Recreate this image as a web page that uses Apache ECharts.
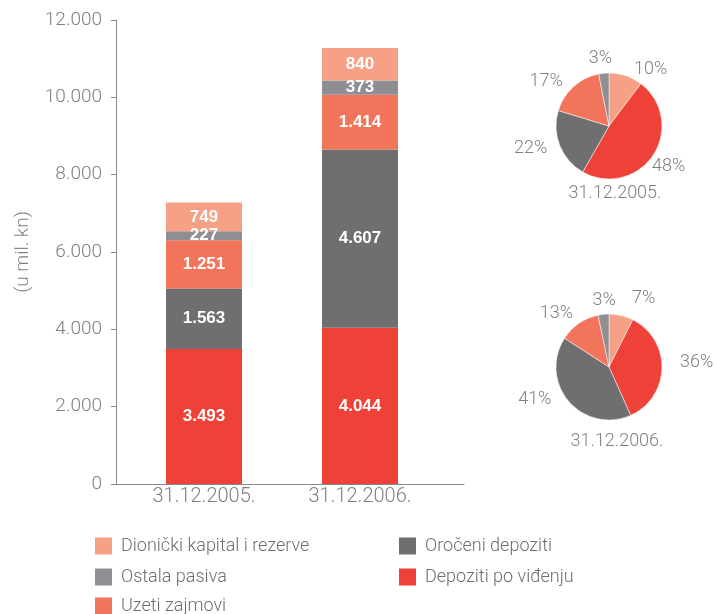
<!DOCTYPE html>
<html><head><meta charset="utf-8">
<script src="https://cdn.jsdelivr.net/npm/echarts@6/dist/echarts.min.js"></script>
<style>html,body{margin:0;padding:0;background:#fff}#c{width:719px;height:614px}</style>
</head><body><div id="c"></div>
<script>
const categories = ['31.12.2005.', '31.12.2006.'];
const seriesNames = ['Depoziti po viđenju', 'Oročeni depoziti', 'Uzeti zajmovi', 'Ostala pasiva', 'Dionički kapital i rezerve'];
const depozitiPoVidenju = [3493, 4044];
const oroceniDepoziti = [1563, 4607];
const uzetiZajmovi = [1251, 1414];
const ostalaPasiva = [227, 373];
const dionickiKapital = [749, 840];
const yTicks = [0, 2000, 4000, 6000, 8000, 10000, 12000];

const colors = {
  'Depoziti po viđenju': '#EE4137',
  'Oročeni depoziti': '#6F6E71',
  'Uzeti zajmovi': '#F2745B',
  'Ostala pasiva': '#8F8E93',
  'Dionički kapital i rezerve': '#F6A085'
};
const values = [depozitiPoVidenju, oroceniDepoziti, uzetiZajmovi, ostalaPasiva, dionickiKapital];
const fmt = v => { const s = String(Math.round(v)); return s.length > 3 ? s.slice(0, -3) + '.' + s.slice(-3) : s; };
const FONT = 'Roboto';
const GRAY = '#808083';

const bars = seriesNames.map((n, i) => ({
  name: n, type: 'bar', stack: 'a', xAxisIndex: 1, yAxisIndex: 1,
  barWidth: 76, data: values[i],
  itemStyle: { color: colors[n] },
  label: { show: true, position: 'inside', color: '#fff', fontWeight: 'bold', fontFamily: 'Liberation Sans', fontSize: 17,
    formatter: p => fmt(p.value) }
}));

// pie order clockwise from top
const pieOrder = ['Dionički kapital i rezerve', 'Depoziti po viđenju', 'Oročeni depoziti', 'Uzeti zajmovi', 'Ostala pasiva'];
// label nudges (style only)
const pieLabelOffsets = [
  { 'Ostala pasiva': [15, -8], 'Depoziti po viđenju': [-13, 8] },
  { 'Ostala pasiva': [19, -7], 'Dionički kapital i rezerve': [3, -10], 'Uzeti zajmovi': [4, -4], 'Depoziti po viđenju': [5, -6], 'Oročeni depoziti': [-6, -7] }
];
const pie = (idx, cy) => ({
  type: 'pie', radius: 53, center: [609, cy], startAngle: 90, clockwise: true,
  percentPrecision: 0, silent: true, avoidLabelOverlap: false,
  data: pieOrder.map(n => ({ name: n, value: values[seriesNames.indexOf(n)][idx],
    itemStyle: { color: colors[n] },
    label: { offset: pieLabelOffsets[idx][n] || [0, 0] } })),
  label: { show: true, position: 'outside', formatter: '{d}%', color: GRAY, fontSize: 18, fontFamily: FONT, fontWeight: 300 },
  labelLine: { show: false, length: 7, length2: 1 },
  itemStyle: { borderColor: '#fff', borderWidth: 0.5 }
});

const legendText = { color: '#6d6e71', fontSize: 18, fontFamily: FONT, fontWeight: 300, padding: [0, 0, 0, 4] };
const legendBase = { orient: 'vertical', itemWidth: 17, itemHeight: 17, itemGap: 13, padding: 0, icon: 'rect',
  textStyle: legendText, selectedMode: false };

const chart = echarts.init(document.getElementById('c'));
chart.setOption({
  animation: false,
  textStyle: { fontFamily: FONT },
  grid: [
    { left: 116, right: 255, top: 20, bottom: 130 },
    { left: 126, right: 281, top: 20, bottom: 130 }
  ],
  xAxis: [
    { type: 'value', gridIndex: 0, min: 0, max: 1, axisLabel: { show: false }, axisTick: { show: false }, splitLine: { show: false },
      axisLine: { lineStyle: { color: '#8a8a8d', width: 1 } } },
    { type: 'category', gridIndex: 1, data: categories, axisLine: { show: false }, axisTick: { show: false },
      axisLabel: { color: GRAY, fontSize: 20, fontFamily: FONT, fontWeight: 300, margin: 3 } }
  ],
  yAxis: [
    { type: 'value', gridIndex: 0, min: 0, max: 12000, interval: 2000,
      axisLine: { show: true, lineStyle: { color: '#8a8a8d', width: 1 } },
      axisTick: { show: true, length: 5, lineStyle: { color: '#8a8a8d' } },
      splitLine: { show: false },
      axisLabel: { color: GRAY, fontSize: 19, fontFamily: FONT, fontWeight: 300, margin: 14, formatter: v => fmt(v) },
      name: '(u mil. kn)', nameLocation: 'middle', nameRotate: 90, nameGap: 83,
      nameTextStyle: { color: GRAY, fontSize: 19, fontFamily: FONT, fontWeight: 300 } },
    { type: 'value', gridIndex: 1, min: 0, max: 12000, show: false }
  ],
  legend: [
    Object.assign({}, legendBase, { left: 95, top: 537, data: ['Dionički kapital i rezerve', 'Ostala pasiva'] }),
    Object.assign({}, legendBase, { left: 95, top: 597, data: ['Uzeti zajmovi'] }),
    Object.assign({}, legendBase, { left: 399, top: 537, data: ['Oročeni depoziti', 'Depoziti po viđenju'] })
  ],
  title: [
    { text: categories[0], left: 610, top: 179, textAlign: 'center',
      textStyle: { color: GRAY, fontSize: 18, fontWeight: 300, fontFamily: FONT } },
    { text: categories[1], left: 612, top: 427, textAlign: 'center',
      textStyle: { color: GRAY, fontSize: 18, fontWeight: 300, fontFamily: FONT } }
  ],
  series: [...bars, pie(0, 126), pie(1, 367)]
});
</script></body></html>
